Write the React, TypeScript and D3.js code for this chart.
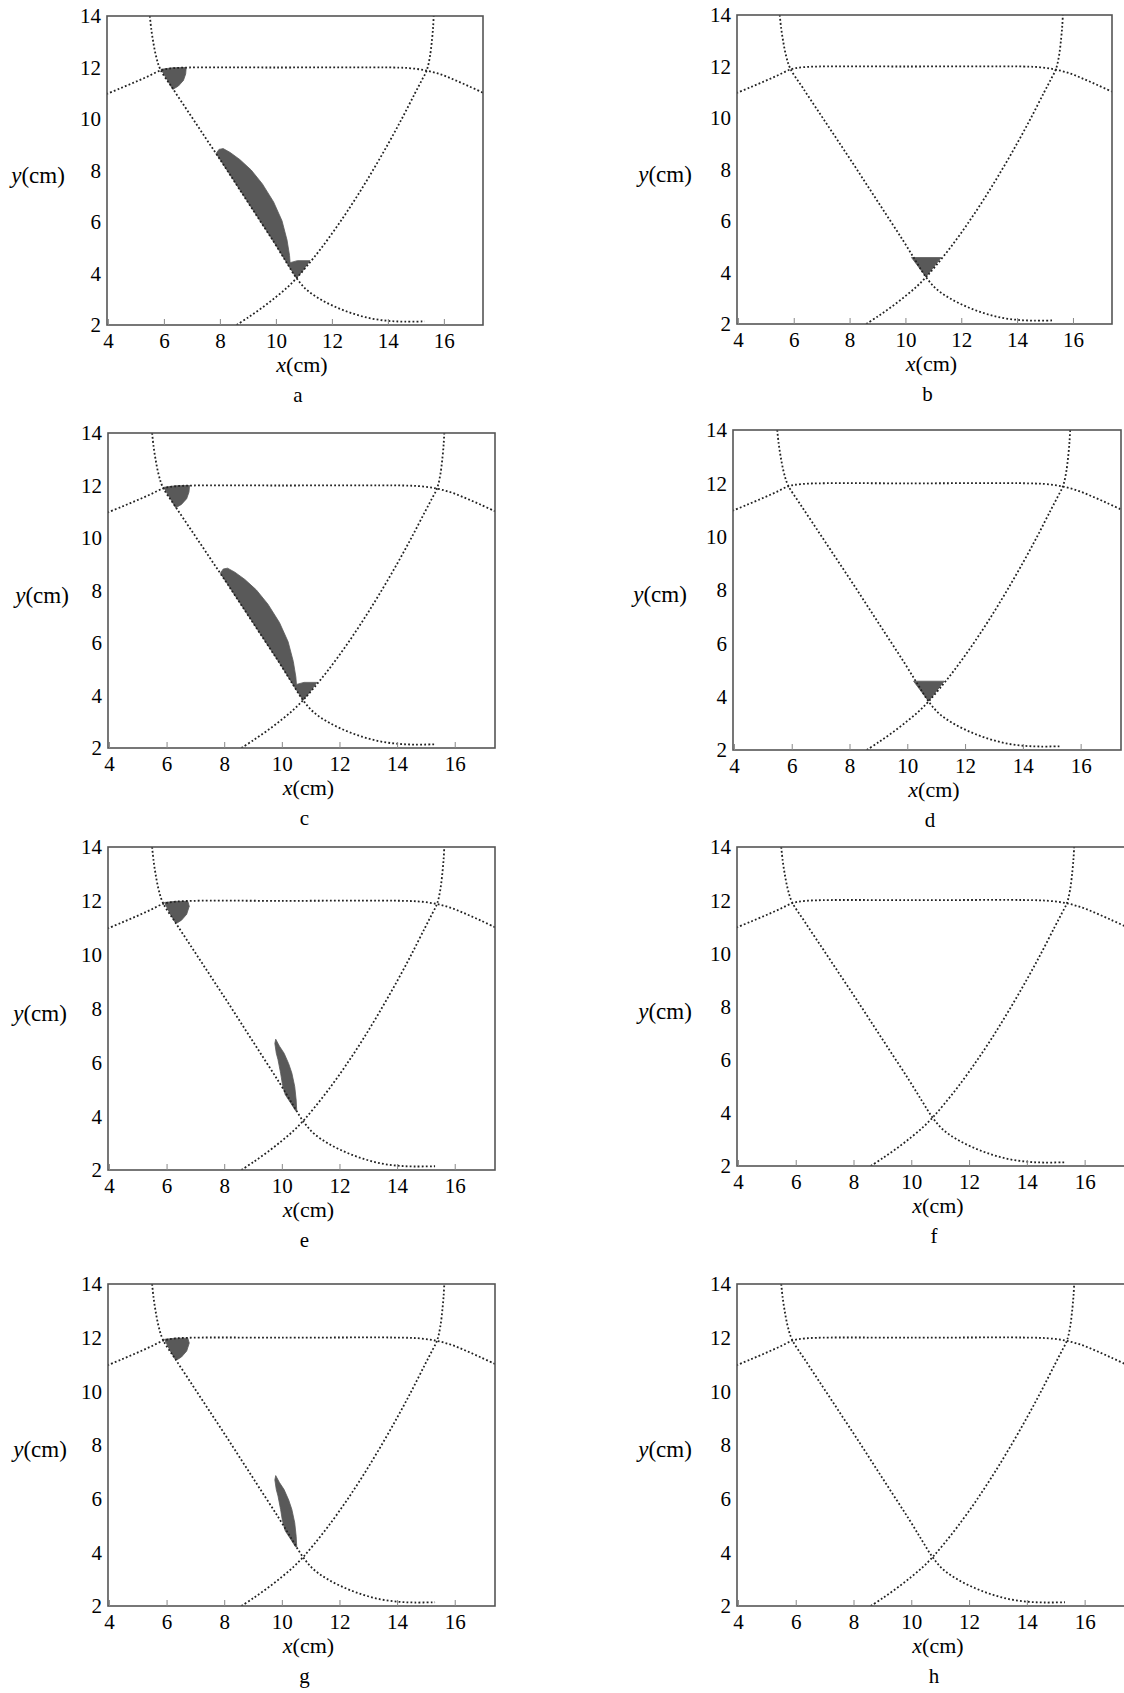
import React from 'react';
import * as d3 from 'd3';

type Pt = [number, number];

// axis ticks shared by all eight panels
const xTicks = [4, 6, 8, 10, 12, 14, 16];
const yTicks = [2, 4, 6, 8, 10, 12, 14];
const xDomain: Pt = [3.95, 17.38];
const yDomain: Pt = [2, 14];

// dotted boundary curves (x cm, y cm)
const leftCurve: Pt[] = [
  [5.48, 14.0], [5.53, 13.5], [5.6, 13.0], [5.7, 12.45], [5.85, 11.94], [6.3, 11.18],
  [6.9, 10.2], [7.5, 9.22], [8.1, 8.24], [8.7, 7.24], [9.3, 6.24], [9.9, 5.24],
  [10.35, 4.45], [10.72, 3.82], [11.1, 3.35], [11.6, 2.98], [12.2, 2.66], [12.8, 2.42],
  [13.4, 2.25], [14.0, 2.16], [14.6, 2.13], [15.3, 2.14],
];
const rightCurve: Pt[] = [
  [8.58, 2.0], [9.0, 2.3], [9.5, 2.68], [10.0, 3.1], [10.4, 3.47], [10.72, 3.82],
  [11.1, 4.3], [11.6, 4.98], [12.2, 5.88], [12.8, 6.86], [13.4, 7.92], [14.0, 9.05],
  [14.5, 10.05], [14.95, 11.0], [15.2, 11.52], [15.37, 11.89], [15.48, 12.4],
  [15.56, 13.1], [15.6, 13.6], [15.62, 14.0],
];
const topArc: Pt[] = [
  [3.93, 10.97], [4.4, 11.18], [4.9, 11.41], [5.4, 11.65], [5.9, 11.9], [6.3, 11.97],
  [6.9, 12.0], [10.0, 12.0], [14.2, 12.0], [14.8, 11.97], [15.37, 11.88], [15.9, 11.72],
  [16.4, 11.5], [16.9, 11.26], [17.38, 11.02],
];

// filled regions
const wedgeWide: Pt[] = [
  [5.88, 11.93], [6.3, 11.99], [6.78, 12.0], [6.76, 11.75], [6.68, 11.5],
  [6.5, 11.28], [6.3, 11.15], [6.1, 11.52],
];
const leafWide: Pt[] = [
  [7.85, 8.66], [7.95, 8.82], [8.1, 8.85], [8.35, 8.7], [8.7, 8.42], [9.1, 8.02],
  [9.5, 7.48], [9.9, 6.78], [10.2, 6.05], [10.38, 5.3], [10.47, 4.7], [10.49, 4.42],
  [10.75, 4.5], [11.2, 4.5], [10.95, 4.12], [10.72, 3.82], [10.35, 4.45], [9.9, 5.24],
  [9.3, 6.24], [8.7, 7.24], [8.1, 8.24],
];
const wedgeNarrow: Pt[] = [
  [5.91, 11.94], [6.3, 11.98], [6.72, 11.98], [6.77, 11.8], [6.68, 11.5],
  [6.5, 11.28], [6.35, 11.18], [6.28, 11.2], [6.08, 11.57],
];
const leafNarrow: Pt[] = [
  [9.77, 6.86], [9.9, 6.6], [10.06, 6.34], [10.22, 5.95], [10.33, 5.6], [10.43, 5.1],
  [10.48, 4.6], [10.5, 4.2], [10.46, 4.2], [10.29, 4.49], [10.1, 4.8], [10.0, 5.2],
  [9.94, 5.6], [9.85, 6.1], [9.79, 6.34], [9.74, 6.7],
];
const tipTriangle: Pt[] = [[10.2, 4.58], [11.26, 4.58], [10.72, 3.83]];

const panelShapes: Record<string, Pt[][]> = {
  a: [wedgeWide, leafWide],
  b: [tipTriangle],
  c: [wedgeWide, leafWide],
  d: [tipTriangle],
  e: [wedgeNarrow, leafNarrow],
  f: [],
  g: [wedgeNarrow, leafNarrow],
  h: [],
};

// page layout of the eight plot boxes
const panels = [
  { id: 'a', left: 107, right: 483, top: 16, bottom: 325, yLabelX: 38 },
  { id: 'b', left: 737, right: 1112, top: 15, bottom: 324, yLabelX: 665 },
  { id: 'c', left: 108, right: 495, top: 433, bottom: 748, yLabelX: 42 },
  { id: 'd', left: 733, right: 1121, top: 430, bottom: 750, yLabelX: 660 },
  { id: 'e', left: 108, right: 495, top: 847, bottom: 1170, yLabelX: 40 },
  { id: 'f', left: 737, right: 1125, top: 847, bottom: 1166, yLabelX: 665 },
  { id: 'g', left: 108, right: 495, top: 1284, bottom: 1606, yLabelX: 40 },
  { id: 'h', left: 737, right: 1125, top: 1284, bottom: 1606, yLabelX: 665 },
];

const Panel = ({ p }: { p: typeof panels[number] }) => {
  const x = d3.scaleLinear().domain(xDomain).range([p.left, p.right]);
  const y = d3.scaleLinear().domain(yDomain).range([p.bottom, p.top]);
  const curve = d3.line<Pt>().x(d => x(d[0])).y(d => y(d[1])).curve(d3.curveCatmullRom.alpha(0.5));
  const shape = d3.line<Pt>().x(d => x(d[0])).y(d => y(d[1])).curve(d3.curveLinearClosed);
  const cx = (p.left + p.right) / 2;
  const cy = (p.top + p.bottom) / 2;

  return (
    <g>
      <clipPath id={`clip-${p.id}`}>
        <rect x={p.left} y={p.top} width={p.right - p.left} height={p.bottom - p.top} />
      </clipPath>
      <g clipPath={`url(#clip-${p.id})`}>
        {panelShapes[p.id].map((s, i) => (
          <path key={i} d={shape(s) || ''} fill="#595959" stroke="#595959" strokeWidth={0.8} strokeLinejoin="round" />
        ))}
        {[leftCurve, rightCurve, topArc].map((c, i) => (
          <path key={i} d={curve(c) || ''} fill="none" stroke="#222" strokeWidth={1.8} strokeDasharray="1.8 2.2" />
        ))}
      </g>
      <rect x={p.left} y={p.top} width={p.right - p.left} height={p.bottom - p.top}
        fill="none" stroke="#555" strokeWidth={1.6} />
      {xTicks.map(t => (
        <g key={t}>
          <line x1={x(t)} x2={x(t)} y1={p.bottom} y2={p.bottom - 6} stroke="#888" strokeWidth={1} />
          <text x={x(t)} y={p.bottom + 23} textAnchor="middle" fontSize={21}>{t}</text>
        </g>
      ))}
      {yTicks.map(t => (
        <text key={t} x={p.left - 6} y={y(t)} dy="0.35em" textAnchor="end" fontSize={21}>{t}</text>
      ))}
      <text x={cx + 7} y={p.bottom + 47} textAnchor="middle" fontSize={22}>
        <tspan fontStyle="italic">x</tspan>(cm)
      </text>
      <text x={p.yLabelX} y={cy + 12} textAnchor="middle" fontSize={23}>
        <tspan fontStyle="italic">y</tspan>(cm)
      </text>
      <text x={cx + 3} y={p.bottom + 77} textAnchor="middle" fontSize={21}>{p.id}</text>
    </g>
  );
};

const App = () => (
  <svg width={1124} height={1693}
    style={{ position: 'absolute', left: 0, top: 0, background: '#fff' }}
    fontFamily="'Liberation Serif', 'Times New Roman', serif" fill="#000">
    {panels.map(p => <Panel key={p.id} p={p} />)}
  </svg>
);

export default App;
